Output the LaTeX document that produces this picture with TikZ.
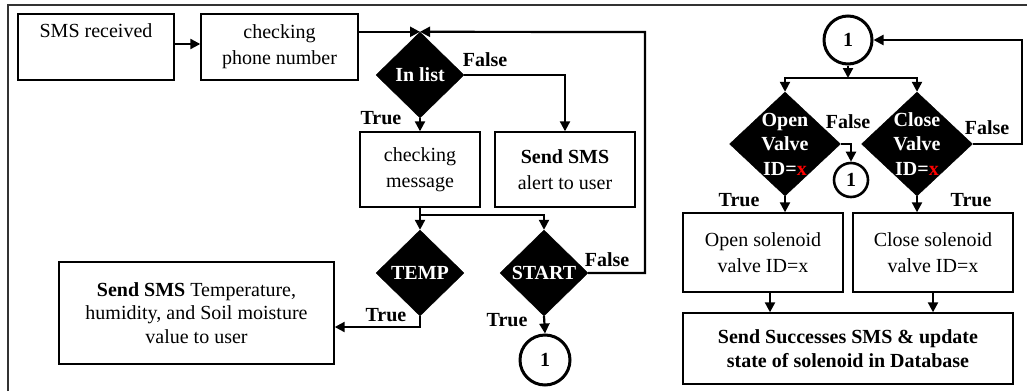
\documentclass[tikz,border=0pt]{standalone}
\usepackage{fontspec}
\setmainfont{Liberation Serif}
\usetikzlibrary{arrows.meta,shapes.geometric}
\begin{document}
\begin{tikzpicture}[x=1pt,y=-1pt,
 box/.style={draw, line width=1.4pt, inner sep=0, align=center, font=\fontsize{20}{26}\selectfont},
 dia/.style={diamond, fill=black, draw=black, inner sep=0},
 dtext/.style={text=white, font=\bfseries\fontsize{20}{24.5}\selectfont, align=center, inner sep=0},
 lbl/.style={font=\bfseries\fontsize{20}{24}\selectfont, inner sep=0},
 conn/.style={line width=2.2pt, -{Triangle[length=10pt,width=10pt]}},
 plain/.style={line width=2.2pt},
 circ/.style={circle, draw, line width=3pt, inner sep=0, font=\bfseries\fontsize{20}{24}\selectfont}]
\useasboundingbox (0,0) rectangle (1027,391);
\draw[line width=1.5pt, black!80] (8,391) -- (8,5) -- (1027,5);

% boxes
\node[box, minimum width=156pt, minimum height=66pt] (rec) at (96,47) {SMS received\\\strut};
\node[box, minimum width=157pt, minimum height=66pt] (phone) at (279.5,47) {checking\\phone number};
\node[box, minimum width=120pt, minimum height=75pt] (msg) at (420,169.5) {checking\\message};
\node[box, minimum width=140pt, minimum height=75pt] (alert) at (565,169.5) {\textbf{Send SMS}\\alert to user};
\node[box, minimum width=275pt, minimum height=102pt, font=\fontsize{20}{23.5}\selectfont] (tbox) at (196.5,313) {\textbf{Send SMS} Temperature,\\humidity, and Soil moisture\\value to user};
\node[box, minimum width=160pt, minimum height=79pt] (opensol) at (763,252.5) {Open solenoid\\valve ID=x};
\node[box, minimum width=160pt, minimum height=79pt] (closesol) at (933,252.5) {Close solenoid\\valve ID=x};
\node[box, minimum width=330pt, minimum height=71pt, font=\bfseries\fontsize{20}{23.5}\selectfont] (final) at (848,348.5) {Send Successes SMS \& update\\state of solenoid in Database};

% diamonds
\node[dia, minimum width=88pt, minimum height=86pt] (inlist) at (420,75) {};
\node[dtext] (inlistt) at (inlist) {In list};
\node[dia, minimum width=88pt, minimum height=86pt] (temp) at (420,273) {};
\node[dtext] (tempt) at (temp) {TEMP};
\node[dia, minimum width=88pt, minimum height=86pt] (start) at (544,273) {};
\node[dtext] (startt) at (start) {START};
\node[dia, minimum width=111pt, minimum height=104pt] (open) at (785,144) {};
\node[dtext] (opent) at (open) {Open\\Valve\\ID=\textcolor{red}{x}};
\node[dia, minimum width=111pt, minimum height=104pt] (close) at (917,144) {};
\node[dtext] (closet) at (close) {Close\\Valve\\ID=\textcolor{red}{x}};

% circles
\node[circ, minimum size=50pt] (c1) at (545,360) {1};
\node[circ, minimum size=48pt] (c1r) at (848,40) {1};
\node[circ, minimum size=34pt, line width=2.6pt] (c2) at (851,180) {1};

% coordinates
\coordinate (rc) at (645,32);
\coordinate (sp1) at (420,215);
\coordinate (tt) at (420,327);
\coordinate (sp2) at (848,78);
\coordinate (of) at (851,144);
\coordinate (rc2) at (1022,40);

% connectors
\draw[conn] ([yshift=3pt]rec.east) -- ([yshift=3pt]rec.east -| phone.west);
\draw[conn] (phone.east |- inlist.north) -- (inlist.north);
\draw[conn] (start.east) -| (rc) -- (inlist.north);
\draw[conn] (inlist.east) -| (alert.north);
\draw[conn] (inlist.south) -- (msg.north);
\draw[plain] (msg.south) -- (sp1);
\draw[conn] (sp1) -- (temp.north);
\draw[conn] (sp1) -| (start.north);
\draw[conn] (temp.south) -- (tt) -- (tt -| tbox.east);
\draw[conn] (start.south) -- (c1.north);

\draw[conn] (c1r.south) -- (sp2);
\draw[conn] (sp2) -| (open.north);
\draw[conn] (sp2) -| (close.north);
\draw[conn] (open.east) -- (of) -- (c2.north);
\draw[conn] (close.east) -| (rc2) -- (c1r.east);
\draw[conn] (open.south) -- (open.south |- opensol.north);
\draw[conn] (close.south) -- (close.south |- closesol.north);
\draw[conn] ([xshift=7pt]opensol.south) -- ([xshift=7pt]opensol.south |- final.north);
\draw[conn] (closesol.south) -- (closesol.south |- final.north);

% labels
\node[lbl] (l1) at (485,60) {False};
\node[lbl] (l2) at (381,118) {True};
\node[lbl] (l3) at (607,260) {False};
\node[lbl] (l4) at (386,315) {True};
\node[lbl] (l5) at (507,320) {True};
\node[lbl] (l6) at (848,122) {False};
\node[lbl] (l7) at (987,128) {False};
\node[lbl] (l8) at (739,200) {True};
\node[lbl] (l9) at (971,200) {True};
\end{tikzpicture}
\end{document}
